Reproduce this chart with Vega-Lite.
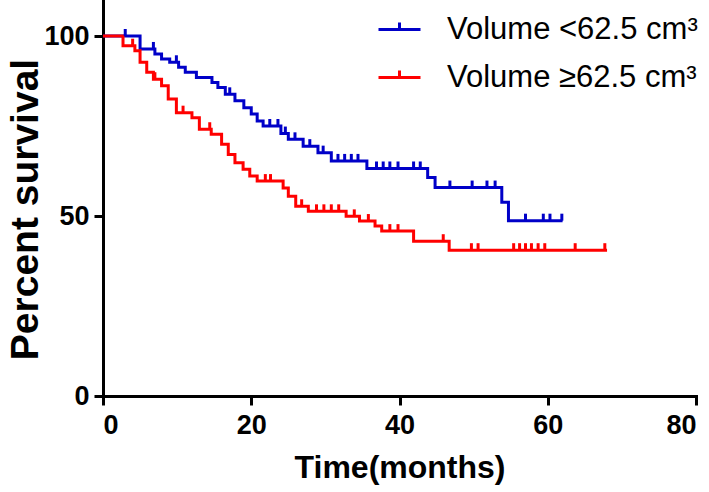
{
  "$schema": "https://vega.github.io/schema/vega-lite/v6.json",
  "width": 593,
  "height": 396,
  "autosize": {"type": "none"},
  "padding": {"left": 103, "right": 13, "top": 0, "bottom": 96},
  "background": "white",
  "config": {
    "view": {"stroke": null},
    "font": "Liberation Sans",
    "axis": {
      "domainColor": "black", "domainWidth": 3, "tickColor": "black", "tickWidth": 3, "tickSize": 9,
      "labelFont": "Liberation Sans", "labelFontWeight": "bold", "labelFontSize": 27, "labelColor": "black",
      "titleFont": "Liberation Sans", "titleFontWeight": "bold", "titleFontSize": 32, "titleColor": "black",
      "grid": false, "domainCap": "square"
    }
  },
  "datasets": {
    "steps": [
      {"group": "Volume <62.5 cm³", "t": 0, "s": 100},
      {"group": "Volume <62.5 cm³", "t": 5.0, "s": 96.4},
      {"group": "Volume <62.5 cm³", "t": 7.0, "s": 95.0},
      {"group": "Volume <62.5 cm³", "t": 7.9, "s": 93.6},
      {"group": "Volume <62.5 cm³", "t": 9.0, "s": 92.7},
      {"group": "Volume <62.5 cm³", "t": 10.2, "s": 91.3},
      {"group": "Volume <62.5 cm³", "t": 11.1, "s": 89.9},
      {"group": "Volume <62.5 cm³", "t": 12.6, "s": 88.5},
      {"group": "Volume <62.5 cm³", "t": 14.7, "s": 87.1},
      {"group": "Volume <62.5 cm³", "t": 15.5, "s": 85.7},
      {"group": "Volume <62.5 cm³", "t": 16.5, "s": 83.8},
      {"group": "Volume <62.5 cm³", "t": 17.8, "s": 82.0},
      {"group": "Volume <62.5 cm³", "t": 19.0, "s": 80.1},
      {"group": "Volume <62.5 cm³", "t": 20.0, "s": 78.3},
      {"group": "Volume <62.5 cm³", "t": 20.8, "s": 76.4},
      {"group": "Volume <62.5 cm³", "t": 21.6, "s": 75.0},
      {"group": "Volume <62.5 cm³", "t": 24.0, "s": 72.9},
      {"group": "Volume <62.5 cm³", "t": 25.0, "s": 71.3},
      {"group": "Volume <62.5 cm³", "t": 27.0, "s": 69.4},
      {"group": "Volume <62.5 cm³", "t": 29.0, "s": 67.6},
      {"group": "Volume <62.5 cm³", "t": 30.8, "s": 65.3},
      {"group": "Volume <62.5 cm³", "t": 35.6, "s": 63.2},
      {"group": "Volume <62.5 cm³", "t": 43.8, "s": 60.7},
      {"group": "Volume <62.5 cm³", "t": 44.8, "s": 57.9},
      {"group": "Volume <62.5 cm³", "t": 53.8, "s": 53.8},
      {"group": "Volume <62.5 cm³", "t": 54.7, "s": 48.7},
      {"group": "Volume <62.5 cm³", "t": 62.0, "s": 48.7},
      {"group": "Volume ≥62.5 cm³", "t": 0, "s": 100},
      {"group": "Volume ≥62.5 cm³", "t": 2.7, "s": 97.3},
      {"group": "Volume ≥62.5 cm³", "t": 4.3, "s": 95.9},
      {"group": "Volume ≥62.5 cm³", "t": 5.0, "s": 92.7},
      {"group": "Volume ≥62.5 cm³", "t": 5.9, "s": 89.9},
      {"group": "Volume ≥62.5 cm³", "t": 6.8, "s": 88.0},
      {"group": "Volume ≥62.5 cm³", "t": 7.9, "s": 86.2},
      {"group": "Volume ≥62.5 cm³", "t": 8.8, "s": 82.5},
      {"group": "Volume ≥62.5 cm³", "t": 9.9, "s": 78.7},
      {"group": "Volume ≥62.5 cm³", "t": 12.0, "s": 77.3},
      {"group": "Volume ≥62.5 cm³", "t": 13.0, "s": 74.1},
      {"group": "Volume ≥62.5 cm³", "t": 14.6, "s": 72.7},
      {"group": "Volume ≥62.5 cm³", "t": 16.0, "s": 69.9},
      {"group": "Volume ≥62.5 cm³", "t": 16.9, "s": 67.1},
      {"group": "Volume ≥62.5 cm³", "t": 17.8, "s": 64.8},
      {"group": "Volume ≥62.5 cm³", "t": 18.9, "s": 63.0},
      {"group": "Volume ≥62.5 cm³", "t": 19.8, "s": 61.1},
      {"group": "Volume ≥62.5 cm³", "t": 20.8, "s": 59.7},
      {"group": "Volume ≥62.5 cm³", "t": 24.3, "s": 57.8},
      {"group": "Volume ≥62.5 cm³", "t": 25.0, "s": 55.5},
      {"group": "Volume ≥62.5 cm³", "t": 26.0, "s": 52.7},
      {"group": "Volume ≥62.5 cm³", "t": 27.7, "s": 51.3},
      {"group": "Volume ≥62.5 cm³", "t": 32.8, "s": 49.9},
      {"group": "Volume ≥62.5 cm³", "t": 34.6, "s": 48.6},
      {"group": "Volume ≥62.5 cm³", "t": 36.7, "s": 47.2},
      {"group": "Volume ≥62.5 cm³", "t": 37.6, "s": 45.8},
      {"group": "Volume ≥62.5 cm³", "t": 41.9, "s": 43.0},
      {"group": "Volume ≥62.5 cm³", "t": 46.7, "s": 40.5},
      {"group": "Volume ≥62.5 cm³", "t": 68.0, "s": 40.5}
    ],
    "censor": [
      {"group": "Volume <62.5 cm³", "t": 3.0, "s": 100},
      {"group": "Volume <62.5 cm³", "t": 6.8, "s": 96.4},
      {"group": "Volume <62.5 cm³", "t": 9.9, "s": 92.7},
      {"group": "Volume <62.5 cm³", "t": 17.1, "s": 83.8},
      {"group": "Volume <62.5 cm³", "t": 22.5, "s": 75.0},
      {"group": "Volume <62.5 cm³", "t": 23.6, "s": 75.0},
      {"group": "Volume <62.5 cm³", "t": 24.6, "s": 72.9},
      {"group": "Volume <62.5 cm³", "t": 25.9, "s": 71.3},
      {"group": "Volume <62.5 cm³", "t": 27.9, "s": 69.4},
      {"group": "Volume <62.5 cm³", "t": 29.7, "s": 67.6},
      {"group": "Volume <62.5 cm³", "t": 31.7, "s": 65.3},
      {"group": "Volume <62.5 cm³", "t": 32.6, "s": 65.3},
      {"group": "Volume <62.5 cm³", "t": 33.5, "s": 65.3},
      {"group": "Volume <62.5 cm³", "t": 34.4, "s": 65.3},
      {"group": "Volume <62.5 cm³", "t": 36.9, "s": 63.2},
      {"group": "Volume <62.5 cm³", "t": 37.8, "s": 63.2},
      {"group": "Volume <62.5 cm³", "t": 38.7, "s": 63.2},
      {"group": "Volume <62.5 cm³", "t": 39.8, "s": 63.2},
      {"group": "Volume <62.5 cm³", "t": 41.9, "s": 63.2},
      {"group": "Volume <62.5 cm³", "t": 42.8, "s": 63.2},
      {"group": "Volume <62.5 cm³", "t": 46.8, "s": 57.9},
      {"group": "Volume <62.5 cm³", "t": 49.8, "s": 57.9},
      {"group": "Volume <62.5 cm³", "t": 51.8, "s": 57.9},
      {"group": "Volume <62.5 cm³", "t": 52.9, "s": 57.9},
      {"group": "Volume <62.5 cm³", "t": 57.0, "s": 48.7},
      {"group": "Volume <62.5 cm³", "t": 59.4, "s": 48.7},
      {"group": "Volume <62.5 cm³", "t": 60.3, "s": 48.7},
      {"group": "Volume <62.5 cm³", "t": 61.9, "s": 48.7},
      {"group": "Volume ≥62.5 cm³", "t": 4.0, "s": 97.3},
      {"group": "Volume ≥62.5 cm³", "t": 7.0, "s": 88.0},
      {"group": "Volume ≥62.5 cm³", "t": 10.8, "s": 78.7},
      {"group": "Volume ≥62.5 cm³", "t": 14.4, "s": 74.1},
      {"group": "Volume ≥62.5 cm³", "t": 21.9, "s": 59.7},
      {"group": "Volume ≥62.5 cm³", "t": 22.6, "s": 59.7},
      {"group": "Volume ≥62.5 cm³", "t": 26.8, "s": 52.7},
      {"group": "Volume ≥62.5 cm³", "t": 28.8, "s": 51.3},
      {"group": "Volume ≥62.5 cm³", "t": 29.8, "s": 51.3},
      {"group": "Volume ≥62.5 cm³", "t": 30.8, "s": 51.3},
      {"group": "Volume ≥62.5 cm³", "t": 31.8, "s": 51.3},
      {"group": "Volume ≥62.5 cm³", "t": 33.9, "s": 49.9},
      {"group": "Volume ≥62.5 cm³", "t": 35.8, "s": 48.6},
      {"group": "Volume ≥62.5 cm³", "t": 38.7, "s": 45.8},
      {"group": "Volume ≥62.5 cm³", "t": 39.8, "s": 45.8},
      {"group": "Volume ≥62.5 cm³", "t": 45.9, "s": 43.0},
      {"group": "Volume ≥62.5 cm³", "t": 49.7, "s": 40.5},
      {"group": "Volume ≥62.5 cm³", "t": 50.6, "s": 40.5},
      {"group": "Volume ≥62.5 cm³", "t": 55.4, "s": 40.5},
      {"group": "Volume ≥62.5 cm³", "t": 56.2, "s": 40.5},
      {"group": "Volume ≥62.5 cm³", "t": 57.0, "s": 40.5},
      {"group": "Volume ≥62.5 cm³", "t": 57.8, "s": 40.5},
      {"group": "Volume ≥62.5 cm³", "t": 58.7, "s": 40.5},
      {"group": "Volume ≥62.5 cm³", "t": 59.6, "s": 40.5},
      {"group": "Volume ≥62.5 cm³", "t": 63.7, "s": 40.5},
      {"group": "Volume ≥62.5 cm³", "t": 67.7, "s": 40.5}
    ]
  },
  "encoding": {
    "x": {"field": "t", "type": "quantitative",
      "scale": {"domain": [0, 80], "nice": false},
      "axis": {"values": [0, 20, 40, 60, 80], "title": "Time(months)", "labelPadding": 7, "titlePadding": 14}},
    "y": {"field": "s", "type": "quantitative",
      "scale": {"domain": [0, 110], "nice": false},
      "axis": {"values": [0, 50, 100], "title": "Percent survival", "labelPadding": 5,
        "titleFontSize": 39, "titleX": -66, "titleY": 209, "titleBaseline": "alphabetic", "titleAlign": "center", "titleAngle": 270}}
  },
  "layer": [
    {"data": {"name": "steps"},
     "mark": {"type": "line", "interpolate": "step-after", "strokeWidth": 3},
     "encoding": {
       "order": {"field": "t", "type": "quantitative"},
       "color": {"field": "group", "type": "nominal",
         "scale": {"domain": ["Volume <62.5 cm³", "Volume ≥62.5 cm³"], "range": ["#0000C8", "#FF0000"]},
         "legend": {"title": null, "orient": "none", "legendX": 274, "legendY": 7, "padding": 0,
           "symbolType": "M-1,0H1M0,0V-0.33", "symbolSize": 1764, "symbolStrokeWidth": 3, "symbolFillColor": "transparent",
           "labelFont": "Liberation Sans", "labelFontSize": 31, "labelColor": "black", "labelOffset": 25, "rowPadding": 10, "labelLimit": 400}}}},
    {"data": {"name": "censor"},
     "mark": {"type": "point", "shape": "M0,0V-1", "filled": false, "strokeWidth": 3, "size": 196, "opacity": 1},
     "encoding": {
       "color": {"field": "group", "type": "nominal"}}}
  ]
}
